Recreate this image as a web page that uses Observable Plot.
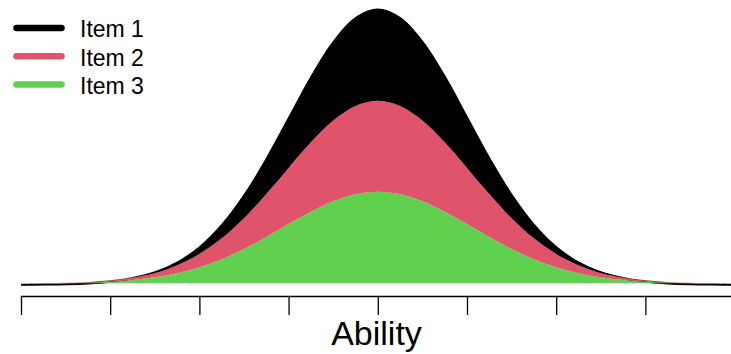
<!DOCTYPE html>
<html>
<head>
<meta charset="utf-8">
<script src="https://cdn.jsdelivr.net/npm/d3@7"></script>
<script src="https://cdn.jsdelivr.net/npm/@observablehq/plot@0.6"></script>
<style>
  html, body { margin: 0; padding: 0; background: #fff; overflow: hidden; }
  #chart svg { display: block; overflow: hidden; }
</style>
</head>
<body>
<div id="chart"></div>
<script>
// Ability grid (theta)
const ability = [-4,-3.75,-3.5,-3.25,-3,-2.75,-2.5,-2.25,-2,-1.75,-1.5,-1.25,-1,-0.75,-0.5,-0.25,0,
                 0.25,0.5,0.75,1,1.25,1.5,1.75,2,2.25,2.5,2.75,3,3.25,3.5,3.75,4];
// Item information (stacked layers)
const item1 = [0,.0005,.001,.002,.004,.006,.016,.039,.079,.145,.242,.366,.513,.665,.799,.891,.924,
               .891,.799,.665,.513,.366,.242,.145,.079,.039,.016,.006,.004,.002,.001,.0005,0];
const item2 = [0,.001,.002,.005,.011,.024,.045,.080,.133,.209,.308,.429,.562,.694,.806,.882,.909,
               .882,.806,.694,.562,.429,.308,.209,.133,.080,.045,.024,.011,.005,.002,.001,0];
const item3 = [0,.001,.003,.007,.016,.034,.060,.100,.160,.241,.343,.464,.593,.717,.822,.892,.917,
               .892,.822,.717,.593,.464,.343,.241,.160,.100,.060,.034,.016,.007,.003,.001,0];
const itemNames = ["Item 1", "Item 2", "Item 3"];
const itemColors = ["#000000", "#DF536B", "#61D04F"];
const tickValues = [-4, -3, -2, -1, 0, 1, 2, 3];
const axisTitle = "Ability";

// long table, bottom layer first (Item 3, then Item 2, then Item 1 on top)
const series = {"Item 1": item1, "Item 2": item2, "Item 3": item3};
const table = [];
for (const name of ["Item 3", "Item 2", "Item 1"]) {
  series[name].forEach((v, i) => table.push({ability: ability[i], info: v, item: name}));
}
const totals = ability.map((a, i) => ({ability: a, info: item1[i] + item2[i] + item3[i]}));

const plot = Plot.plot({
  width: 731,
  height: 354,
  marginLeft: 21,
  marginRight: 0,
  marginTop: 0,
  marginBottom: 58,
  style: {fontFamily: "'Liberation Sans', Arial, sans-serif", background: "#fff", color: "#000"},
  x: {domain: [-4, 3.96]},
  y: {domain: [0, 2.75], range: [283.3, 8.5], axis: null},
  color: {domain: itemNames, range: itemColors},
  marks: [
    Plot.lineY(totals, {x: "ability", y: "info", stroke: "#000", strokeWidth: 2, dy: 1, curve: "catmull-rom", clip: true}),
    Plot.areaY(table, {x: "ability", y: "info", z: "item", fill: "item", curve: "catmull-rom", clip: true, order: null}),
    Plot.frame({anchor: "bottom", strokeWidth: 1.3}),
    Plot.axisX({ticks: tickValues, tickSize: 19, tickFormat: () => "", label: null, strokeWidth: 1.3}),
    Plot.text([axisTitle], {frameAnchor: "bottom", dy: 48, lineAnchor: "bottom", fontSize: 34, fill: "#000"})
  ]
});

// Legend (top-left, overlaid)
const svg = d3.select(plot);
const lg = svg.append("g")
  .attr("font-family", "'Liberation Sans', Arial, sans-serif")
  .attr("text-anchor", "start");
itemNames.forEach((name, i) => {
  const cy = 28 + i * 28.2;
  lg.append("line")
    .attr("x1", 16.5).attr("x2", 61.5).attr("y1", cy).attr("y2", cy)
    .attr("stroke", itemColors[i]).attr("stroke-width", 6.5).attr("stroke-linecap", "round");
  lg.append("text")
    .attr("x", 80).attr("y", cy + 9.4)
    .attr("text-anchor", "start")
    .attr("font-size", 23).attr("fill", "#000")
    .text(name);
});

document.getElementById("chart").appendChild(plot);
</script>
</body>
</html>
